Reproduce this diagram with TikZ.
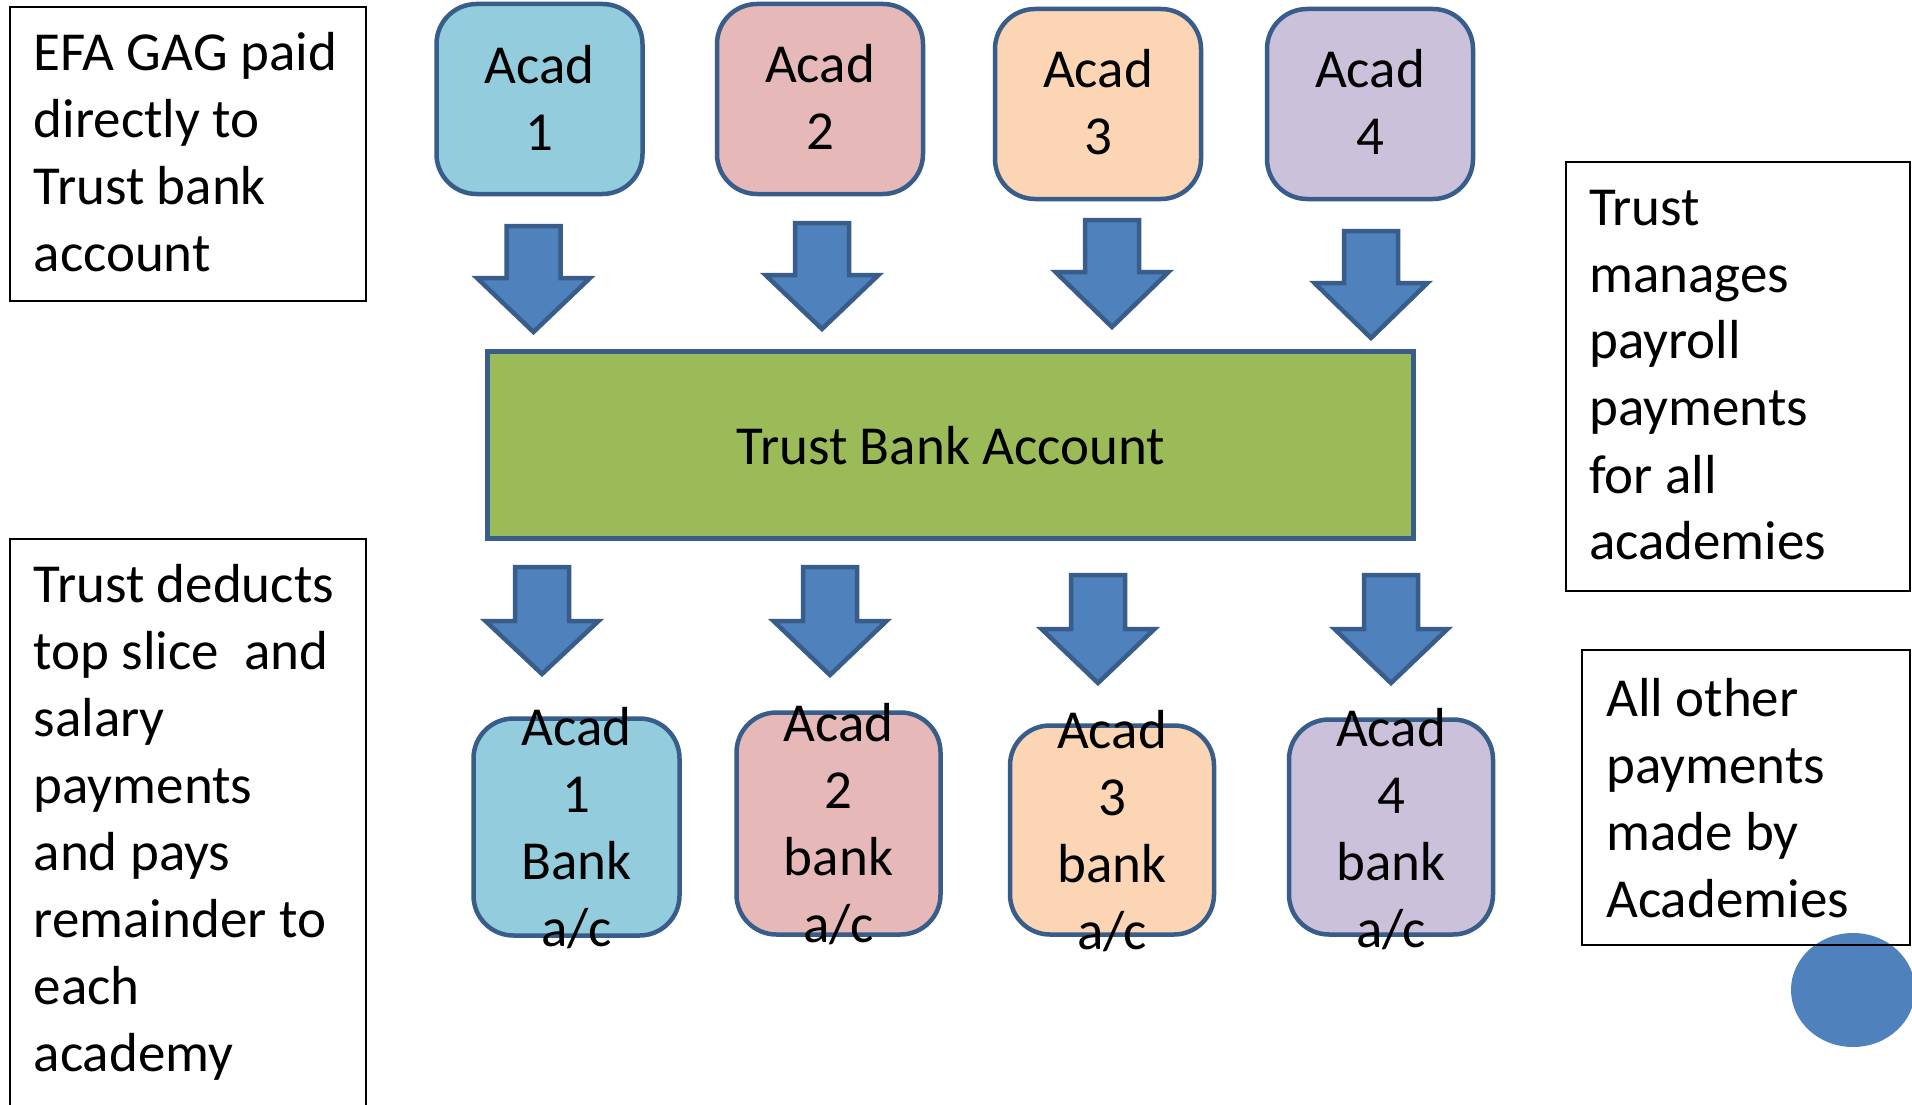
\documentclass[tikz,border=0pt]{standalone}
\usepackage{fontspec}
\setmainfont{Carlito}
\definecolor{edgeblue}{HTML}{385D8A}
\definecolor{arrowblue}{HTML}{4F81BD}
\definecolor{acadA}{HTML}{93CDDD}
\definecolor{acadB}{HTML}{E6B9B8}
\definecolor{acadC}{HTML}{FCD5B5}
\definecolor{acadD}{HTML}{CCC1DA}
\definecolor{trustgreen}{HTML}{9BBB59}
\newcommand\bigfont{\fontsize{55}{67}\selectfont}
\newcommand\ctext[1]{\parbox[t]{300pt}{\bigfont\centering #1}}
\newcommand\ltext[1]{\parbox[t]{340pt}{\bigfont\raggedright #1}}
% downward block arrow: centre x, shaft top, head base, tip
\newcommand\downblock[4]{%
  \draw[blockarrow] (#1-27,#2+2) -- (#1+27,#2+2) -- (#1+27,#3) -- (#1+56.5,#3)
    -- (#1,#4-2) -- (#1-56.5,#3) -- (#1-27,#3) -- cycle;}
\begin{document}
\begin{tikzpicture}[x=1pt,y=-1pt,
  acadbox/.style={draw=edgeblue, line width=4.5pt, rounded corners=40pt,
    minimum width=205pt, inner sep=0pt},
  blockarrow/.style={draw=edgeblue, fill=arrowblue, line width=4.5pt, line join=miter},
  notebox/.style={draw=black, line width=2.6pt, inner sep=0pt},
  lbl/.style={inner sep=0pt, font=\bigfont}]
\useasboundingbox (0,0) rectangle (1912,1105);
\clip (0,0) rectangle (1912,1105);
\fill[white] (0,0) rectangle (1912,1105);

% note boxes on the left
\node[notebox, minimum width=356pt, minimum height=294pt] (efa) at (188,154) {};
\node[lbl, anchor=base west] (efat) at (33.5,71)
  {\ltext{EFA GAG paid\\directly to\\Trust bank\\account}};
\node[notebox, minimum width=356pt, minimum height=700pt] (ded) at (188,889) {};
\node[lbl, anchor=base west] (dedt) at (33.5,602)
  {\ltext{Trust deducts\\top slice\ \ and\\salary\\payments\\and pays\\remainder to\\each\\academy}};

% academies sending funds
\node[acadbox, fill=acadA, minimum width=206pt, minimum height=190pt] (a1) at (539.5,99) {};
\node[acadbox, fill=acadB, minimum width=206pt, minimum height=190pt] (a2) at (820,99) {};
\node[acadbox, fill=acadC, minimum width=206pt, minimum height=190pt] (a3) at (1098,104) {};
\node[acadbox, fill=acadD, minimum width=206pt, minimum height=190pt] (a4) at (1370,104) {};
\node[lbl, anchor=base] (a1t) at (539.5,84) {\ctext{Acad\\1}};
\node[lbl, anchor=base] (a2t) at (820,83) {\ctext{Acad\\2}};
\node[lbl, anchor=base] (a3t) at (1098,88) {\ctext{Acad\\3}};
\node[lbl, anchor=base] (a4t) at (1370,88) {\ctext{Acad\\4}};

% arrows into the trust account
\downblock{533.5}{224}{278}{334}
\downblock{822}{221}{275}{331}
\downblock{1112}{218}{272}{329}
\downblock{1371}{229}{283}{340}

% trust bank account
\node[draw=edgeblue, fill=trustgreen, line width=4.5pt, minimum width=926pt,
  minimum height=187pt, inner sep=0pt] (trust) at (950.5,445) {};
\node[lbl] (trustt) at (951,446) {Trust Bank Account};

% arrows out to the academy accounts
\downblock{542}{565}{621}{676}
\downblock{830}{565}{621}{677}
\downblock{1098}{573}{629}{685}
\downblock{1391}{573}{629}{685}

% academy bank accounts
\node[acadbox, fill=acadA, minimum width=206pt, minimum height=217pt] (b1) at (576.5,827) {};
\node[acadbox, fill=acadB, minimum width=204pt, minimum height=222pt] (b2) at (838.5,823.5) {};
\node[acadbox, fill=acadC, minimum width=204pt, minimum height=209pt] (b3) at (1112,830) {};
\node[acadbox, fill=acadD, minimum width=204pt, minimum height=215pt] (b4) at (1391,827) {};
\node[lbl, anchor=base] (b1t) at (576.5,745) {\ctext{Acad\\1\\Bank\\a/c}};
\node[lbl, anchor=base] (b2t) at (838.5,741) {\ctext{Acad\\2\\bank\\a/c}};
\node[lbl, anchor=base] (b3t) at (1112,748) {\ctext{Acad\\3\\bank\\a/c}};
\node[lbl, anchor=base] (b4t) at (1391,746) {\ctext{Acad\\4\\bank\\a/c}};

% note boxes on the right
\fill[arrowblue] (1853,990) ellipse [x radius=62pt, y radius=57pt];
\node[notebox, minimum width=344pt, minimum height=429pt] (pay) at (1738,376.5) {};
\node[lbl, anchor=base west] (payt) at (1589,225)
  {\ltext{Trust\\manages\\payroll\\payments\\for all\\academies}};
\node[notebox, minimum width=328pt, minimum height=295pt] (oth) at (1746,797.5) {};
\node[lbl, anchor=base west] (otht) at (1606,716)
  {\ltext{All other\\payments\\made by\\Academies}};
\end{tikzpicture}
\end{document}
